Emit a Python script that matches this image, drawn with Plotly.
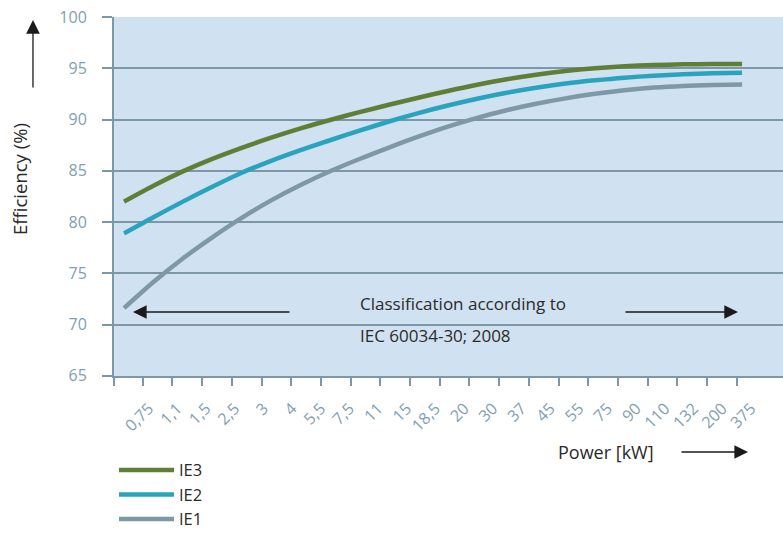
import plotly.graph_objects as go

# ---- data ----
power_labels = ["0,75", "1,1", "1,5", "2,5", "3", "4", "5,5", "7,5", "11", "15", "18,5",
                "20", "30", "37", "45", "55", "75", "90", "110", "132", "200", "375"]
ie3 = [82.0, 83.55, 84.95, 86.17, 87.25, 88.24, 89.15, 89.97, 90.73, 91.45, 92.14,
       92.8, 93.41, 93.94, 94.39, 94.75, 95.02, 95.21, 95.33, 95.4, 95.43, 95.44]
ie2 = [78.9, 80.48, 82.0, 83.45, 84.82, 85.98, 87.02, 87.99, 88.92, 89.82, 90.64,
       91.38, 92.04, 92.62, 93.11, 93.52, 93.84, 94.1, 94.29, 94.43, 94.52, 94.58]
ie1 = [71.6, 74.15, 76.45, 78.52, 80.42, 82.12, 83.62, 84.96, 86.16, 87.28, 88.34,
       89.32, 90.18, 90.92, 91.55, 92.08, 92.52, 92.87, 93.13, 93.29, 93.38, 93.43]
y_ticks = [65, 70, 75, 80, 85, 90, 95, 100]

# ---- styles ----
FONT = "Open Sans"
C_IE3 = "#5f7f37"
C_IE2 = "#2aa3bd"
C_IE1 = "#7f98a6"
C_BG = "#d0e1f2"
C_GRID = "#7d96a8"
C_TICK = "#829eb2"
C_TEXT = "#2a2a2a"

idx = list(range(len(power_labels)))
X0, X1 = -0.34, 22.39
LABEL_START, LABEL_STEP = 0.84, 0.9745
TICK_START, TICK_STEP = 0.635, 1.0092
label_pos = [LABEL_START + LABEL_STEP * i for i in idx]
tick_pos = [X0] + [TICK_START + TICK_STEP * k for k in range(len(power_labels) - 1)]

fig = go.Figure()
for name, vals, col in [("IE3", ie3, C_IE3), ("IE2", ie2, C_IE2), ("IE1", ie1, C_IE1)]:
    fig.add_trace(go.Scatter(x=idx, y=vals, mode="lines", name=name,
                             line=dict(color=col, width=4.5, shape="spline", smoothing=0.8),
                             hoverinfo="skip"))

fig.update_layout(
    template="none",
    width=783, height=533,
    margin=dict(l=114, r=0, t=17, b=157, autoexpand=False),
    paper_bgcolor="white", plot_bgcolor=C_BG,
    font=dict(family=FONT, color=C_TEXT),
    showlegend=True,
    legend=dict(x=0.0, xanchor="left", y=-0.214, yanchor="top", itemwidth=55,
                font=dict(size=16.5, color=C_TEXT, family=FONT),
                bgcolor="rgba(0,0,0,0)", traceorder="normal"),
    xaxis=dict(range=[X0, X1], showgrid=False, zeroline=False, automargin=False,
               tickmode="array", tickvals=label_pos, ticktext=power_labels,
               tickangle=-45, ticks="", ticklabelstandoff=15,
               tickfont=dict(size=16, color=C_TICK, family=FONT),
               showline=True, linecolor=C_GRID, linewidth=2,
               minor=dict(tickmode="array", tickvals=tick_pos, ticks="outside",
                          ticklen=8, tickwidth=1.5, tickcolor=C_GRID, showgrid=False)),
    yaxis=dict(range=[64.98, 100.02], tickmode="array", tickvals=y_ticks, automargin=False,
               showgrid=True, gridcolor=C_GRID, gridwidth=1.5, zeroline=False,
               ticks="outside", ticklen=10, tickwidth=1.5, tickcolor=C_GRID,
               ticklabelstandoff=12,
               tickfont=dict(size=16, color=C_TICK, family=FONT),
               showline=True, linecolor=C_GRID, linewidth=2),
)

# gap in the 70 gridline behind the classification note
fig.add_shape(type="rect", xref="paper", yref="y", x0=0.2616, x1=0.7623, y0=69.75, y1=70.25,
              fillcolor=C_BG, line=dict(width=0), layer="between")

# classification note
fig.add_annotation(xref="paper", yref="paper", x=0.3647, y=0.2006, xanchor="left", yanchor="middle",
                   text="Classification according to", showarrow=False,
                   font=dict(size=17, color=C_TEXT, family=FONT))
fig.add_annotation(xref="paper", yref="paper", x=0.3647, y=0.1142, xanchor="left", yanchor="middle",
                   text="IEC 60034-30; 2008", showarrow=False,
                   font=dict(size=17, color=C_TEXT, family=FONT))
arrow_common = dict(xref="paper", yref="paper", text="", showarrow=True, arrowhead=2,
                    arrowsize=2.1, arrowwidth=1.3, arrowcolor="#1a1a1a", standoff=0)
fig.add_annotation(x=0.0284, y=0.1783, ax=158, ay=0, **arrow_common)
fig.add_annotation(x=0.9327, y=0.1783, ax=-114, ay=0, **arrow_common)

# axis titles with arrows
fig.add_annotation(xref="paper", yref="paper", x=-0.1405, y=0.549, xanchor="center", yanchor="middle",
                   text="Efficiency (%)", textangle=-90, showarrow=False,
                   font=dict(size=18.5, color=C_TEXT, family=FONT))
fig.add_annotation(x=-0.1211, y=0.9916, ax=0, ay=69, **arrow_common)
fig.add_annotation(xref="paper", yref="paper", x=0.7354, y=-0.2117, xanchor="center", yanchor="middle",
                   text="Power [kW]", showarrow=False,
                   font=dict(size=18, color=C_TEXT, family=FONT))
fig.add_annotation(x=0.9477, y=-0.2117, ax=-68, ay=0, **arrow_common)

fig.write_html("out.html", config={"displayModeBar": False},
               post_script="document.body.style.margin='0';document.body.style.overflow='hidden';")
